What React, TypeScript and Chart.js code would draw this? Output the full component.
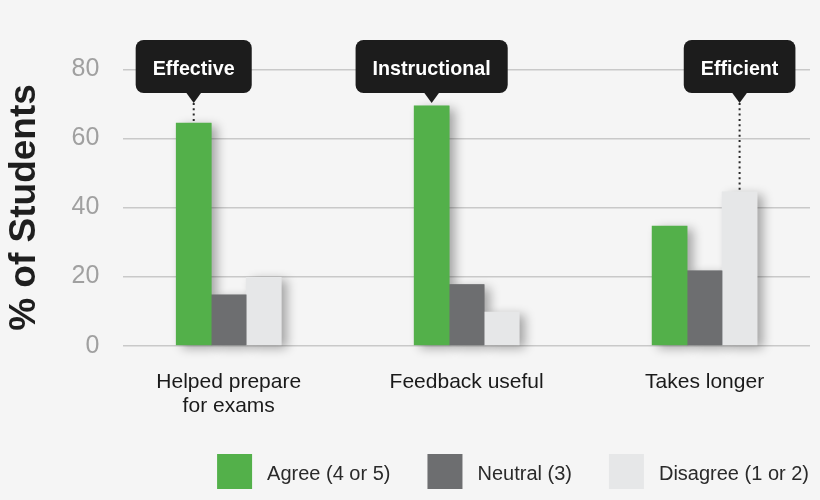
import React, { useEffect, useRef } from "react";
import { Chart, registerables } from "chart.js";

Chart.register(...registerables);

const categories: string[][] = [["Helped prepare", "for exams"], ["Feedback useful"], ["Takes longer"]];
const seriesNames = ["Agree (4 or 5)", "Neutral (3)", "Disagree (1 or 2)"];
const agree = [64.4, 69.4, 34.6];
const neutral = [14.7, 17.7, 21.7];
const disagree = [19.8, 9.7, 44.5];
const yTicks = [0, 20, 40, 60, 80];
const calloutLabels = ["Effective", "Instructional", "Efficient"];
const calloutSeries = [0, 0, 2];
const seriesColors = ["#53b04a", "#6d6e70", "#e6e7e8"];

const FAMILY = "'Liberation Sans', Arial, Helvetica, sans-serif";

export default function App() {
  const ref = useRef<HTMLCanvasElement>(null);

  useEffect(() => {
    const canvas = ref.current;
    if (!canvas) return;
    const values = [agree, neutral, disagree];

    const shadowPlugin = {
      id: "barShadow",
      beforeDatasetsDraw(chart: any) {
        const ctx = chart.ctx;
        chart.data.datasets.forEach((ds: any, di: number) => {
          const meta = chart.getDatasetMeta(di);
          meta.data.forEach((bar: any) => {
            const p = bar.getProps(["x", "y", "base", "width"], true);
            ctx.save();
            ctx.shadowColor = "rgba(0,0,0,0.33)";
            ctx.shadowBlur = 10;
            ctx.shadowOffsetX = 6;
            ctx.shadowOffsetY = 3;
            ctx.fillStyle = ds.backgroundColor;
            ctx.fillRect(p.x - p.width / 2, p.y, p.width, p.base - p.y);
            ctx.restore();
          });
        });
      },
    };

    const calloutPlugin = {
      id: "callouts",
      afterDatasetsDraw(chart: any) {
        const ctx = chart.ctx;
        ctx.save();
        ctx.font = `bold 19.7px ${FAMILY}`;
        calloutLabels.forEach((label, i) => {
          const bar: any = chart.getDatasetMeta(calloutSeries[i]).data[i];
          const bx = bar.x;
          const by = bar.y;
          const tw = ctx.measureText(label).width;
          const w = tw + 34;
          const h = 53;
          const top = chart.chartArea.top - 29.3;
          const left = bx - w / 2;
          ctx.fillStyle = "#1c1c1c";
          ctx.beginPath();
          ctx.roundRect(left, top, w, h, 8);
          ctx.fill();
          ctx.beginPath();
          ctx.moveTo(bx - 8, top + h - 1);
          ctx.lineTo(bx + 8, top + h - 1);
          ctx.lineTo(bx, top + h + 10);
          ctx.closePath();
          ctx.fill();
          const ly0 = top + h + 10;
          const ly1 = by - 1;
          if (ly1 - ly0 > 3) {
            ctx.strokeStyle = "#2a2a2a";
            ctx.lineWidth = 2;
            ctx.setLineDash([2, 3.3]);
            ctx.beginPath();
            ctx.moveTo(bx, ly0);
            ctx.lineTo(bx, ly1);
            ctx.stroke();
            ctx.setLineDash([]);
          }
          ctx.fillStyle = "#ffffff";
          ctx.textAlign = "center";
          ctx.textBaseline = "alphabetic";
          ctx.fillText(label, bx, top + 35);
        });
        ctx.restore();
      },
    };

    const legendPlugin = {
      id: "customLegend",
      afterDraw(chart: any) {
        const ctx = chart.ctx;
        ctx.save();
        ctx.font = `20px ${FAMILY}`;
        const box = 35;
        const gapText = 15;
        const gapItem = 37;
        const widths = seriesNames.map((n) => ctx.measureText(n).width);
        const total =
          widths.reduce((a, w) => a + box + gapText + w, 0) + gapItem * (seriesNames.length - 1);
        let x = chart.chartArea.right - 1 - total;
        const top = chart.height - 46;
        seriesNames.forEach((name, i) => {
          ctx.fillStyle = seriesColors[i];
          ctx.fillRect(x, top, box, box);
          ctx.fillStyle = "#2a2a2a";
          ctx.textAlign = "left";
          ctx.textBaseline = "alphabetic";
          ctx.fillText(name, x + box + gapText, top + 26);
          x += box + gapText + widths[i] + gapItem;
        });
        ctx.restore();
      },
    };

    const chart = new Chart(canvas, {
      type: "bar",
      data: {
        datasets: seriesNames.map((name, di) => ({
          label: name,
          data: values[di].map((v, i) => ({ x: i, y: v })),
          backgroundColor: seriesColors[di],
          borderWidth: 0,
          barThickness: 35,
        })),
      },
      options: {
        animation: false,
        responsive: false,
        layout: { padding: { top: 69.3, right: 10, bottom: 0, left: 0 } },
        plugins: {
          legend: { display: false },
          tooltip: { enabled: false },
        },
        scales: {
          x: {
            type: "linear",
            min: -0.443,
            max: 2.443,
            offset: false,
            grid: { display: false },
            border: { display: false },
            afterBuildTicks: (s: any) => {
              s.ticks = categories.map((_, i) => ({ value: i }));
            },
            afterFit: (s: any) => {
              s.height = 154.3;
            },
            ticks: {
              autoSkip: false,
              maxRotation: 0,
              padding: 16.5,
              color: "#1a1a1a",
              font: { size: 21, family: FAMILY, lineHeight: 1.143 },
              callback: (_v: any, index: number) => categories[index] ?? "",
            },
          },
          y: {
            min: 0,
            max: 80,
            afterBuildTicks: (s: any) => {
              s.ticks = yTicks.map((v) => ({ value: v }));
            },
            afterFit: (s: any) => {
              s.width = 123.3;
            },
            grid: { color: "#c9c9c9", lineWidth: 1.5, drawTicks: false },
            border: { display: false },
            ticks: {
              padding: 24,
              color: "#a0a0a0",
              font: { size: 25, family: FAMILY },
            },
            title: {
              display: true,
              text: "% of Students",
              color: "#1e1e1e",
              font: { size: 37, weight: "bold", family: FAMILY },
              padding: { top: 3, bottom: 0 },
            },
          },
        },
      } as any,
      plugins: [shadowPlugin, calloutPlugin, legendPlugin],
    });

    return () => chart.destroy();
  }, []);

  return (
    <div
      style={{
        position: "absolute",
        left: 0,
        top: 0,
        width: 820,
        height: 500,
        background: "#f5f5f5",
      }}
    >
      <canvas ref={ref} width={820} height={500} style={{ width: 820, height: 500, display: "block" }} />
    </div>
  );
}
